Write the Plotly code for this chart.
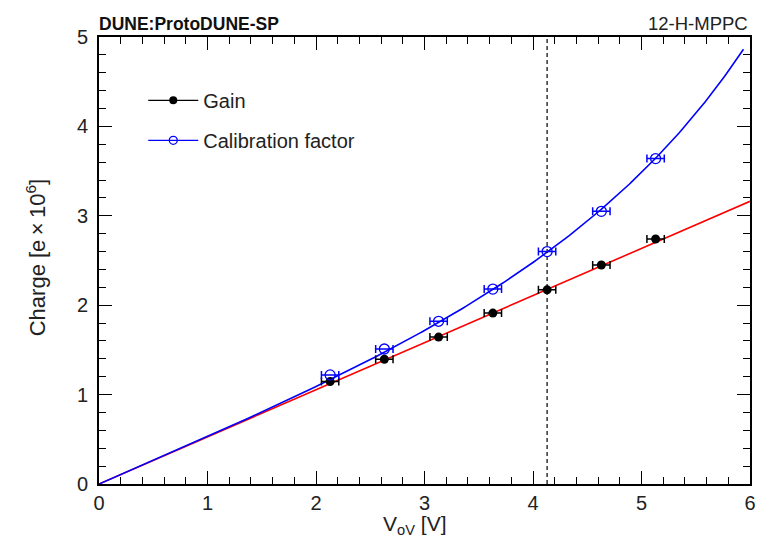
import numpy as np
import plotly.graph_objects as go

# ---- data ----
v_ov = [2.13, 2.63, 3.13, 3.63, 4.13, 4.63, 5.13]
v_ov_err = [0.08, 0.08, 0.08, 0.08, 0.08, 0.08, 0.08]
gain = [1.146, 1.396, 1.643, 1.912, 2.172, 2.45, 2.74]
calib = [1.22, 1.51, 1.82, 2.18, 2.60, 3.05, 3.64]

# fit parameters (gain: linear through origin; calibration: gain/(1 - k*V^n))
gain_fit_slope = 0.527
cal_fit_k = 0.00707
cal_fit_n = 2.2
gain_fit_range = (0.0, 6.0)
cal_fit_range = (0.0, 5.94)

vline_x = 4.13

x_ticks = [0, 1, 2, 3, 4, 5, 6]
y_ticks = [0, 1, 2, 3, 4, 5]

FONT = "Liberation Sans, Arial, Helvetica, sans-serif"

xg = np.linspace(*gain_fit_range, 200)
yg = gain_fit_slope * xg
xc = np.linspace(*cal_fit_range, 300)
yc = gain_fit_slope * xc / (1.0 - cal_fit_k * xc ** cal_fit_n)

fig = go.Figure()

# fit curves
fig.add_trace(go.Scatter(x=xg, y=yg, mode="lines", line=dict(color="#ff0000", width=1.6),
                         showlegend=False, hoverinfo="skip"))
fig.add_trace(go.Scatter(x=xc, y=yc, mode="lines", line=dict(color="#0000ff", width=1.6),
                         showlegend=False, hoverinfo="skip"))

# dashed vertical line
fig.add_trace(go.Scatter(x=[vline_x, vline_x], y=[0, 5], mode="lines",
                         line=dict(color="black", width=1.2, dash="4px,3px"),
                         showlegend=False, hoverinfo="skip"))

# data points
fig.add_trace(go.Scatter(x=v_ov, y=gain, mode="markers",
                         marker=dict(symbol="circle", size=9, color="black"),
                         error_x=dict(type="data", array=v_ov_err, color="black", thickness=1.5, width=4),
                         showlegend=False))
fig.add_trace(go.Scatter(x=v_ov, y=calib, mode="markers",
                         marker=dict(symbol="circle-open", size=10, color="#0000ff", line=dict(width=1.3)),
                         error_x=dict(type="data", array=v_ov_err, color="#0000ff", thickness=1.5, width=4),
                         showlegend=False))

# legend entries
fig.add_trace(go.Scatter(x=[None], y=[None], mode="lines+markers", name="Gain",
                         line=dict(color="black", width=1.3),
                         marker=dict(symbol="circle", size=8, color="black"),
                         legendgroup="g1"))
fig.add_trace(go.Scatter(x=[None], y=[None], mode="lines+markers", name="Calibration factor",
                         line=dict(color="#0000ff", width=1.3),
                         marker=dict(symbol="circle-open", size=8, color="#0000ff", line=dict(width=1.3)),
                         legendgroup="g2"))

axis_common = dict(
    showgrid=False, zeroline=False, showline=True, linecolor="black", linewidth=2,
    mirror="ticks", ticks="inside", ticklen=13, tickwidth=1.2, tickcolor="black",
    tickfont=dict(family=FONT, size=20, color="#222222"),
)

fig.update_xaxes(range=[0, 6], tickvals=x_ticks, ticktext=[str(t) for t in x_ticks],
                 minor=dict(ticks="inside", ticklen=7, dtick=0.2, tick0=0, tickcolor="black", tickwidth=1.2),
                 **axis_common)
fig.update_yaxes(range=[0, 5], tickvals=y_ticks, ticktext=[str(t) for t in y_ticks],
                 ticklabelstandoff=5,
                 minor=dict(ticks="inside", ticklen=7, dtick=0.2, tick0=0, tickcolor="black", tickwidth=1.2),
                 **axis_common)

fig.update_layout(
    width=767, height=541,
    margin=dict(l=99, r=17, t=37, b=57),
    paper_bgcolor="white", plot_bgcolor="white",
    font=dict(family=FONT, color="#222222"),
    legend=dict(x=0.068, y=0.902, xanchor="left", yanchor="top",
                bgcolor="rgba(0,0,0,0)", font=dict(family=FONT, size=20, color="#222222"),
                tracegroupgap=11, itemwidth=50),
    annotations=[
        dict(text="<b>DUNE:ProtoDUNE-SP</b>", xref="paper", yref="paper", x=0, y=1.0,
             xanchor="left", yanchor="bottom", yshift=1, xshift=-2, showarrow=False,
             font=dict(family=FONT, size=17.5, color="#111111")),
        dict(text="12-H-MPPC", xref="paper", yref="paper", x=1.0, y=1.0,
             xanchor="right", yanchor="bottom", yshift=1, showarrow=False,
             font=dict(family=FONT, size=18.5, color="#222222")),
        dict(text="V<sub>oV</sub> [V]", xref="paper", yref="paper", x=0.485, y=0,
             xanchor="center", yanchor="top", yshift=-26, showarrow=False,
             font=dict(family=FONT, size=21, color="#222222")),
        dict(text="Charge [e\u2009\u00d7\u200910<sup>6</sup>]", xref="paper", yref="paper", x=0, y=0.505,
             xanchor="center", yanchor="middle", xshift=-63, textangle=-90, showarrow=False,
             font=dict(family=FONT, size=22, color="#222222")),
    ],
)

fig.write_html("out.html")
